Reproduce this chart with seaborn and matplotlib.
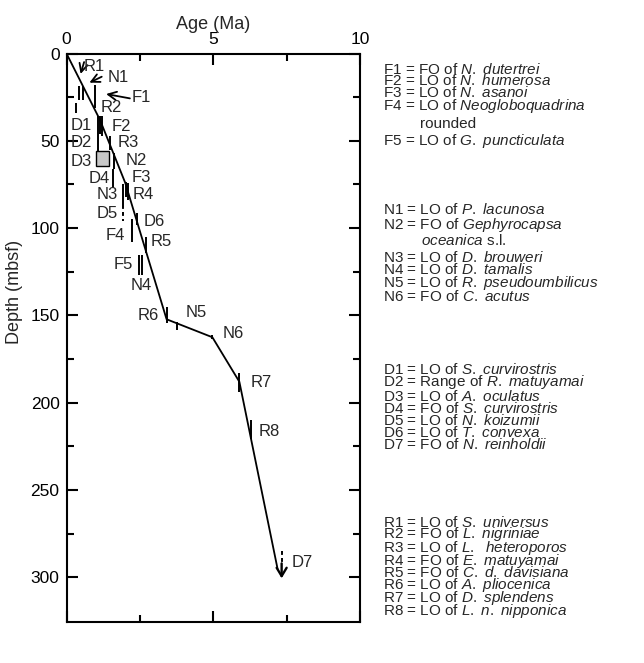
import matplotlib
matplotlib.use("Agg")
import matplotlib.pyplot as plt
import seaborn as sns
import pandas as pd
from matplotlib.patches import Rectangle

sns.set_theme(style="ticks")
plt.rcParams["font.family"] = ["Liberation Sans", "DejaVu Sans"]
plt.rcParams["mathtext.fontset"] = "custom"
plt.rcParams["mathtext.rm"] = "Liberation Sans"
plt.rcParams["mathtext.it"] = "Liberation Sans:italic"
plt.rcParams["mathtext.bf"] = "Liberation Sans:bold"

# ---- age-depth model (tie points) ----
model_age = [0.0, 1.14, 2.0, 3.41, 4.97, 5.89, 7.19]
model_depth = [0.0, 38.0, 74.0, 152.2, 162.5, 188.0, 295.0]

# ---- biostratigraphic datums: age (Ma) and depth interval (mbsf) ----
datum_code = ["R1", "N1", "F1", "D1", "R2", "F2", "D2", "R3", "N2", "D4",
              "F3", "N3", "R4", "D5", "D6", "F4", "R5", "F5", "N4", "R6",
              "N5", "N6", "R7", "R8", "D7"]
datum_age = [0.43, 0.55, 0.98, 0.31, 1.13, 1.20, 1.07, 1.48, 1.63, 1.60,
             2.02, 1.94, 2.10, 1.94, 2.41, 2.22, 2.71, 2.48, 2.56, 3.41,
             3.75, 4.97, 5.89, 6.28, 7.33]
datum_top = [18.5, 18.5, 18.0, 28.5, 36.0, 36.0, 36.0, 47.0, 57.0, 66.0,
             73.5, 75.0, 74.0, 87.0, 91.5, 95.0, 105.0, 115.5, 115.5, 145.0,
             153.6, 161.0, 183.0, 210.0, 285.0]
datum_bottom = [26.5, 26.5, 31.0, 34.3, 46.0, 47.0, 56.0, 55.5, 66.0, 77.0,
                82.0, 87.0, 84.0, 96.0, 98.0, 108.0, 114.5, 127.0, 127.0, 154.5,
                158.4, 163.5, 193.7, 221.0, 292.0]
dashed_codes = ["D5", "D7"]

# D3: LO of A. oculatus, given as an age/depth window
d3_age = (1.00, 1.46)
d3_depth = (56.0, 64.5)

# D7 lies below the base of the interval
d7_arrow_depth = (292.0, 300.6)

# label anchors (age, depth) for each datum code
label_pos = {
    "R1": (0.94, 7.2), "N1": (1.75, 13.5), "F1": (2.54, 25.2),
    "R2": (1.52, 31.2), "D1": (0.49, 41.0), "F2": (1.86, 41.9),
    "D2": (0.52, 51.0), "R3": (2.10, 51.0), "D3": (0.49, 61.6),
    "N2": (2.37, 61.0), "D4": (1.11, 71.6), "F3": (2.54, 71.0),
    "N3": (1.40, 80.5), "R4": (2.61, 80.5), "D5": (1.40, 91.4),
    "D6": (2.98, 96.3), "F4": (1.65, 104.5), "R5": (3.24, 107.8),
    "F5": (1.94, 121.1), "N4": (2.56, 132.6), "R6": (2.79, 150.3),
    "N5": (4.41, 148.6), "N6": (5.67, 160.1), "R7": (6.63, 188.4),
    "R8": (6.90, 216.5), "D7": (8.02, 291.5),
}
# pointer arrows from near a label to its datum: (tail, head)
pointer = {
    "R1": ((0.60, 4.9), (0.48, 11.7)),
    "N1": ((1.20, 13.3), (0.78, 16.7)),
    "F1": ((2.16, 25.7), (1.35, 23.2)),
}

# ---- key to datum codes ----
foram_a = [("F1", "FO", "N. dutertrei"), ("F2", "LO", "N. humerosa"),
           ("F3", "LO", "N. asanoi"), ("F4", "LO", "Neogloboquadrina")]
foram_b = [("F5", "LO", "G. puncticulata")]
nanno_a = [("N1", "LO", "P. lacunosa"), ("N2", "FO", "Gephyrocapsa")]
nanno_b = [("N3", "LO", "D. brouweri"), ("N4", "LO", "D. tamalis"),
           ("N5", "LO", "R. pseudoumbilicus"), ("N6", "FO", "C. acutus")]
diatom = [("D1", "LO", "S. curvirostris"), ("D2", "Range", "R. matuyamai"),
          ("D3", "LO", "A. oculatus"), ("D4", "FO", "S. curvirostris"),
          ("D5", "LO", "N. koizumii"), ("D6", "LO", "T. convexa"),
          ("D7", "FO", "N. reinholdii")]
radio = [("R1", "LO", "S. universus"), ("R2", "FO", "L. nigriniae"),
         ("R3", "LO", "L.  heteroporos"), ("R4", "FO", "E. matuyamai"),
         ("R5", "FO", "C. d. davisiana"), ("R6", "LO", "A. pliocenica"),
         ("R7", "LO", "D. splendens"), ("R8", "LO", "L. n. nipponica")]
f4_more = "rounded"
n2_more = r"$\mathit{oceanica}$ s.l."

xticks = [0, 5, 10]
yticks = [0, 50, 100, 150, 200, 250, 300]

W, H = 644, 663
fig = plt.figure(figsize=(W / 100, H / 100), dpi=100)
ax = fig.add_axes([66.5 / W, 1 - 621.7 / H, (360 - 66.5) / W, (621.7 - 53.5) / H])

LABEL_FS = 13
TICK_FS = 12.5
CODE_FS = 12
KEY_FS = 11

# age-depth line
model = pd.DataFrame({"age": model_age, "depth": model_depth})
sns.lineplot(data=model, x="age", y="depth", sort=False, estimator=None,
             color="black", lw=1.3, ax=ax)

# D3 window
ax.add_patch(Rectangle((d3_age[0], d3_depth[0]), d3_age[1] - d3_age[0],
                       d3_depth[1] - d3_depth[0], facecolor="#c8c8c8",
                       edgecolor="black", lw=1.0, zorder=3))

# datum intervals
for code, a, t, b in zip(datum_code, datum_age, datum_top, datum_bottom):
    ls = (0, (2.0, 1.6)) if code in dashed_codes else "-"
    ax.vlines(a, t, b, colors="black", lw=1.4, linestyles=ls, zorder=4)

# D7 arrow continuing downward
ax.annotate("", xy=(datum_age[-1], d7_arrow_depth[1]),
            xytext=(datum_age[-1], d7_arrow_depth[0]),
            arrowprops=dict(arrowstyle="->,head_length=0.5,head_width=0.3",
                            lw=1.7, color="black", shrinkA=0, shrinkB=0))

for code, (tail, head) in pointer.items():
    ax.annotate("", xy=head, xytext=tail,
                arrowprops=dict(arrowstyle="->,head_length=0.5,head_width=0.25",
                                lw=1.3, color="black", shrinkA=0, shrinkB=0))

for code, (x, y) in label_pos.items():
    ax.text(x, y, code, fontsize=CODE_FS, ha="center", va="center", zorder=5)

# axes styling
ax.set_xlim(0, 10)
ax.set_ylim(325.4, 0)
ax.set_xticks(xticks)
ax.set_xticks([2.5, 7.5], minor=True)
ax.set_yticks(yticks)
ax.set_yticks([25, 75, 125, 175, 225, 275], minor=True)
ax.xaxis.tick_top()
ax.xaxis.set_label_position("top")
ax.set_xlabel("Age (Ma)", fontsize=LABEL_FS, labelpad=2)
ax.set_ylabel("")
ax.tick_params(axis="both", which="both", direction="in", top=True,
               bottom=True, left=True, right=True, labeltop=True,
               labelbottom=False, labelleft=True, labelright=False,
               width=1.5, colors="black", labelsize=TICK_FS)
ax.tick_params(which="major", length=8, pad=5)
ax.tick_params(which="minor", length=5)
for s in ax.spines.values():
    s.set_linewidth(1.5)
    s.set_color("black")
ax.grid(False)

fig.text(15 / W, 1 - 292 / H, "Depth (mbsf)", rotation=90, fontsize=LABEL_FS,
         ha="center", va="center")


def entry(code, event, taxon):
    it = taxon.replace(" ", r"\ ")
    return f"{code} = {event} of " + r"$\mathit{" + it + "}$"


def place_block(lines, base1, step, x):
    """Draw lines as one text, first baseline at base1 px, baselines step px apart."""
    txt = "\n".join(lines)
    n = len(lines)
    kw = dict(fontsize=KEY_FS, ha="left", va="baseline")
    if n == 1:
        fig.text(x, 1 - base1 / H, txt, **kw)
        return
    r = fig.canvas.get_renderer()
    probes = [fig.text(0, 0, txt, fontsize=KEY_FS, linespacing=ls)
              for ls in (1.0, 2.0)]
    h1, h2 = (p.get_window_extent(r).height for p in probes)
    for p in probes:
        p.remove()
    asc = (h2 - h1) / (n - 1)
    const = h1 - (n - 1) * asc
    desc = (const - asc) / n
    ls = (step - desc) / asc
    fig.text(x, 1 - (base1 + (n - 1) * step) / H, txt, linespacing=ls, **kw)


x0 = 383 / W
xi = 420 / W
indent = " " * 9
nanno_lines = [entry(*e) for e in nanno_a] + [indent + n2_more]

place_block([entry(*e) for e in foram_a], 72.3, 12.6, x0)
place_block([f4_more], 128.3, 0, xi)
place_block([entry(*e) for e in foram_b], 145.0, 0, x0)
place_block(nanno_lines, 215.0, 14.8, x0)
place_block([entry(*e) for e in nanno_b], 262.7, 12.75, x0)
place_block([entry(*e) for e in diatom], 374.0, 12.5, x0)
place_block([entry(*e) for e in radio], 527.3, 12.55, x0)

fig.savefig("out.png", dpi=100)
